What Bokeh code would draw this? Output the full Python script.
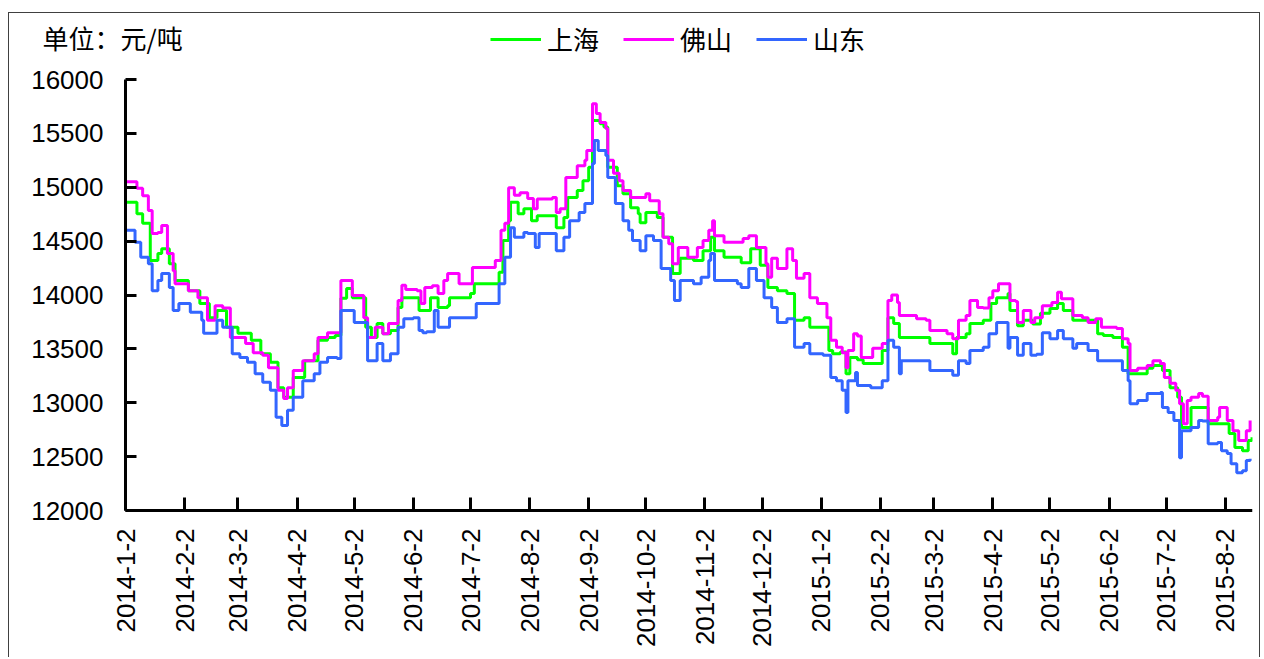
import math
import calendar
from datetime import datetime

from bokeh.plotting import figure
from bokeh.models import (FixedTicker, CustomJSTickFormatter, Legend, LegendItem,
                          Label, Range1d, NumeralTickFormatter)
from bokeh.embed import file_html
from bokeh.resources import INLINE

# ---------------- data ----------------
series_names = ["上海", "佛山", "山东"]
unit_text = "单位：元/吨"

sh_dates = ["2014-01-02", "2014-01-06", "2014-01-08", "2014-01-11", "2014-01-15", "2014-01-19", "2014-01-21",
            "2014-01-25", "2014-01-28", "2014-02-04", "2014-02-10", "2014-02-15", "2014-02-19", "2014-02-24",
            "2014-03-02", "2014-03-09", "2014-03-14", "2014-03-19", "2014-03-23", "2014-03-26", "2014-03-31",
            "2014-04-06", "2014-04-13", "2014-04-18", "2014-04-22", "2014-04-25", "2014-04-28", "2014-05-01",
            "2014-05-05", "2014-05-08", "2014-05-11", "2014-05-14", "2014-05-17", "2014-05-21", "2014-05-25",
            "2014-05-27", "2014-06-02", "2014-06-05", "2014-06-11", "2014-06-15", "2014-06-20", "2014-06-21",
            "2014-07-02", "2014-07-04", "2014-07-14", "2014-07-17", "2014-07-19", "2014-07-22", "2014-07-23",
            "2014-07-27", "2014-07-30", "2014-08-03", "2014-08-06", "2014-08-14", "2014-08-16", "2014-08-20",
            "2014-08-22", "2014-08-27", "2014-08-30", "2014-09-02", "2014-09-04", "2014-09-08", "2014-09-10",
            "2014-09-12", "2014-09-17", "2014-09-20", "2014-09-24", "2014-09-28", "2014-09-29", "2014-10-02",
            "2014-10-08", "2014-10-11", "2014-10-16", "2014-10-20", "2014-10-27", "2014-11-01", "2014-11-05",
            "2014-11-07", "2014-11-12", "2014-11-19", "2014-11-21", "2014-11-26", "2014-12-01", "2014-12-05",
            "2014-12-10", "2014-12-15", "2014-12-19", "2014-12-24", "2014-12-27", "2015-01-03", "2015-01-06",
            "2015-01-08", "2015-01-12", "2015-01-15", "2015-01-17", "2015-01-21", "2015-01-24", "2015-01-31",
            "2015-02-03", "2015-02-06", "2015-02-09", "2015-02-12", "2015-02-27", "2015-02-28", "2015-03-09",
            "2015-03-12", "2015-03-14", "2015-03-19", "2015-03-21", "2015-03-28", "2015-04-01", "2015-04-04",
            "2015-04-10", "2015-04-11", "2015-04-15", "2015-04-18", "2015-04-23", "2015-04-27", "2015-05-02",
            "2015-05-06", "2015-05-09", "2015-05-14", "2015-05-22", "2015-05-27", "2015-05-30", "2015-06-04",
            "2015-06-09", "2015-06-12", "2015-06-17", "2015-06-22", "2015-06-25", "2015-06-30", "2015-07-04",
            "2015-07-08", "2015-07-10", "2015-07-15", "2015-07-21", "2015-07-24", "2015-07-30", "2015-08-04",
            "2015-08-07", "2015-08-11", "2015-08-14", "2015-08-16"]
sh_vals = [14860, 14860, 14755, 14665, 14320, 14385, 14430,
           14290, 14135, 14040, 13920, 13790, 13855, 13700,
           13645, 13580, 13455, 13375, 13140, 13050, 13235,
           13390, 13580, 13605, 13625, 13970, 14060, 13975,
           13975, 13700, 13605, 13735, 13640, 13670, 13885,
           13975, 13975, 13855, 13975, 13885, 13900, 13975,
           14015, 14105, 14105, 14210, 14505, 14690, 14860,
           14755, 14800, 14690, 14735, 14735, 14625, 14720,
           14905, 14970, 15060, 15185, 15620, 15590, 15560,
           15185, 15015, 14940, 14810, 14755, 14670, 14765,
           14720, 14535, 14200, 14340, 14320, 14410, 14535,
           14410, 14350, 14350, 14300, 14430, 14275, 14070,
           14040, 14015, 13765, 13790, 13700, 13700, 13485,
           13455, 13470, 13270, 13420, 13400, 13365, 13365,
           13485, 13790, 13735, 13605, 13605, 13550, 13550,
           13455, 13605, 13640, 13735, 13765, 13920, 13975,
           14015, 13855, 13715, 13765, 13730, 13830, 13875,
           13920, 13855, 13765, 13765, 13640, 13625, 13605,
           13515, 13270, 13270, 13320, 13345, 13300, 13140,
           13050, 12770, 12955, 12955, 12805, 12805, 12715,
           12585, 12555, 12650, 12680]

fs_dates = ["2014-01-02", "2014-01-06", "2014-01-08", "2014-01-11", "2014-01-14", "2014-01-16", "2014-01-19",
            "2014-01-21", "2014-01-24", "2014-01-27", "2014-01-28", "2014-02-04", "2014-02-09", "2014-02-14",
            "2014-02-18", "2014-02-22", "2014-02-26", "2014-03-03", "2014-03-06", "2014-03-10", "2014-03-15",
            "2014-03-18", "2014-03-23", "2014-03-26", "2014-03-28", "2014-03-31", "2014-04-05", "2014-04-11",
            "2014-04-13", "2014-04-18", "2014-04-23", "2014-04-25", "2014-04-30", "2014-05-01", "2014-05-05",
            "2014-05-07", "2014-05-09", "2014-05-13", "2014-05-17", "2014-05-20", "2014-05-25", "2014-05-27",
            "2014-05-29", "2014-06-04", "2014-06-06", "2014-06-08", "2014-06-12", "2014-06-15", "2014-06-18",
            "2014-06-20", "2014-06-25", "2014-06-26", "2014-07-01", "2014-07-03", "2014-07-12", "2014-07-15",
            "2014-07-18", "2014-07-20", "2014-07-22", "2014-07-25", "2014-07-28", "2014-08-01", "2014-08-04",
            "2014-08-06", "2014-08-14", "2014-08-16", "2014-08-18", "2014-08-21", "2014-08-25", "2014-08-27",
            "2014-08-31", "2014-09-01", "2014-09-04", "2014-09-06", "2014-09-08", "2014-09-11", "2014-09-12",
            "2014-09-15", "2014-09-18", "2014-09-20", "2014-09-24", "2014-10-01", "2014-10-02", "2014-10-04",
            "2014-10-09", "2014-10-11", "2014-10-14", "2014-10-16", "2014-10-19", "2014-10-24", "2014-10-29",
            "2014-11-01", "2014-11-04", "2014-11-06", "2014-11-07", "2014-11-12", "2014-11-19", "2014-11-22",
            "2014-11-25", "2014-11-29", "2014-12-04", "2014-12-05", "2014-12-07", "2014-12-10", "2014-12-15",
            "2014-12-18", "2014-12-20", "2014-12-24", "2014-12-27", "2014-12-31", "2015-01-05", "2015-01-07",
            "2015-01-10", "2015-01-13", "2015-01-15", "2015-01-16", "2015-01-19", "2015-01-21", "2015-01-23",
            "2015-01-28", "2015-01-29", "2015-02-03", "2015-02-06", "2015-02-08", "2015-02-11", "2015-02-12",
            "2015-02-21", "2015-02-26", "2015-02-28", "2015-03-09", "2015-03-12", "2015-03-15", "2015-03-19",
            "2015-03-21", "2015-03-25", "2015-03-28", "2015-03-31", "2015-04-02", "2015-04-05", "2015-04-10",
            "2015-04-11", "2015-04-14", "2015-04-15", "2015-04-18", "2015-04-22", "2015-04-24", "2015-04-28",
            "2015-05-03", "2015-05-06", "2015-05-08", "2015-05-14", "2015-05-19", "2015-05-22", "2015-05-26",
            "2015-05-29", "2015-06-06", "2015-06-09", "2015-06-12", "2015-06-13", "2015-06-17", "2015-06-22",
            "2015-06-25", "2015-06-29", "2015-07-01", "2015-07-04", "2015-07-07", "2015-07-09", "2015-07-11",
            "2015-07-13", "2015-07-15", "2015-07-19", "2015-07-21", "2015-07-24", "2015-07-29", "2015-07-30",
            "2015-08-03", "2015-08-06", "2015-08-09", "2015-08-11", "2015-08-13", "2015-08-15"]
fs_vals = [15050, 15050, 14990, 14920, 14785, 14570, 14580,
           14645, 14385, 14225, 14105, 14040, 13975, 13765,
           13900, 13880, 13605, 13605, 13550, 13465, 13440,
           13325, 13115, 13040, 13140, 13300, 13390, 13455,
           13605, 13650, 13650, 14135, 14135, 13995, 13995,
           13790, 13605, 13700, 13640, 13735, 13950, 14090,
           14050, 14040, 13920, 14070, 14085, 14015, 14135,
           14200, 14200, 14105, 14105, 14255, 14255, 14320,
           14600, 14665, 14995, 14925, 14950, 14895, 14800,
           14890, 14905, 14765, 14800, 15090, 15090, 15200,
           15250, 15340, 15775, 15685, 15600, 15545, 15250,
           15130, 15060, 14970, 14905, 14905, 14940, 14875,
           14755, 14535, 14475, 14290, 14440, 14350, 14440,
           14505, 14600, 14690, 14550, 14490, 14490, 14525,
           14550, 14440, 14290, 14165, 14340, 14245, 14430,
           14320, 14155, 14200, 13975, 13920, 13790, 13580,
           13515, 13465, 13325, 13485, 13640, 13620, 13420,
           13420, 13505, 13550, 13950, 14000, 13930, 13810,
           13780, 13765, 13670, 13640, 13595, 13765, 13810,
           13950, 13885, 13880, 13975, 14040, 14105, 14105,
           13950, 13940, 13745, 13855, 13745, 13790, 13900,
           13930, 14025, 13965, 13810, 13790, 13745, 13780,
           13700, 13690, 13595, 13550, 13300, 13320, 13345,
           13390, 13365, 13235, 13180, 13115, 12990, 12805,
           13020, 13050, 13085, 13060, 12835, 12865, 12955,
           12835, 12740, 12650, 12650, 12740, 12835]

sd_dates = ["2014-01-02", "2014-01-06", "2014-01-07", "2014-01-10", "2014-01-14", "2014-01-16", "2014-01-19",
            "2014-01-21", "2014-01-25", "2014-01-27", "2014-01-30", "2014-02-05", "2014-02-11", "2014-02-12",
            "2014-02-16", "2014-02-19", "2014-02-22", "2014-02-27", "2014-03-03", "2014-03-07", "2014-03-11",
            "2014-03-15", "2014-03-19", "2014-03-22", "2014-03-25", "2014-03-28", "2014-03-31", "2014-04-05",
            "2014-04-11", "2014-04-14", "2014-04-18", "2014-04-23", "2014-04-25", "2014-04-30", "2014-05-02",
            "2014-05-05", "2014-05-09", "2014-05-14", "2014-05-17", "2014-05-21", "2014-05-25", "2014-05-28",
            "2014-06-02", "2014-06-05", "2014-06-07", "2014-06-09", "2014-06-13", "2014-06-15", "2014-06-20",
            "2014-06-21", "2014-07-03", "2014-07-05", "2014-07-15", "2014-07-17", "2014-07-20", "2014-07-23",
            "2014-07-25", "2014-07-30", "2014-08-01", "2014-08-05", "2014-08-07", "2014-08-14", "2014-08-16",
            "2014-08-20", "2014-08-23", "2014-08-28", "2014-08-31", "2014-09-04", "2014-09-05", "2014-09-07",
            "2014-09-11", "2014-09-12", "2014-09-16", "2014-09-20", "2014-09-23", "2014-09-25", "2014-09-29",
            "2014-10-02", "2014-10-06", "2014-10-10", "2014-10-15", "2014-10-17", "2014-10-20", "2014-10-27",
            "2014-10-31", "2014-11-04", "2014-11-05", "2014-11-07", "2014-11-19", "2014-11-21", "2014-11-25",
            "2014-11-29", "2014-12-03", "2014-12-07", "2014-12-10", "2014-12-15", "2014-12-19", "2014-12-24",
            "2014-12-27", "2015-01-03", "2015-01-07", "2015-01-10", "2015-01-13", "2015-01-15", "2015-01-16",
            "2015-01-20", "2015-01-21", "2015-01-28", "2015-01-31", "2015-02-03", "2015-02-06", "2015-02-09",
            "2015-02-12", "2015-02-13", "2015-02-27", "2015-02-28", "2015-03-09", "2015-03-12", "2015-03-15",
            "2015-03-19", "2015-03-21", "2015-03-28", "2015-03-31", "2015-04-04", "2015-04-09", "2015-04-10",
            "2015-04-11", "2015-04-15", "2015-04-18", "2015-04-22", "2015-04-25", "2015-04-28", "2015-05-02",
            "2015-05-06", "2015-05-09", "2015-05-14", "2015-05-16", "2015-05-22", "2015-05-27", "2015-06-04",
            "2015-06-09", "2015-06-12", "2015-06-13", "2015-06-17", "2015-06-22", "2015-06-29", "2015-06-30",
            "2015-07-03", "2015-07-06", "2015-07-09", "2015-07-10", "2015-07-15", "2015-07-19", "2015-07-21",
            "2015-07-24", "2015-07-29", "2015-07-31", "2015-08-03", "2015-08-05", "2015-08-08", "2015-08-11",
            "2015-08-13", "2015-08-15"]
sd_vals = [14600, 14600, 14490, 14350, 14290, 14040, 14135,
           14200, 14070, 13855, 13920, 13840, 13765, 13645,
           13645, 13765, 13700, 13455, 13420, 13375, 13270,
           13190, 13115, 12865, 12790, 12930, 13050, 13205,
           13270, 13375, 13420, 13410, 13855, 13855, 13745,
           13745, 13390, 13550, 13390, 13455, 13700, 13780,
           13790, 13670, 13650, 13660, 13855, 13700, 13700,
           13790, 13790, 13920, 13920, 14105, 14350, 14625,
           14535, 14580, 14570, 14440, 14570, 14570, 14410,
           14535, 14690, 14765, 14850, 15220, 15435, 15340,
           15295, 15090, 14850, 14690, 14600, 14505, 14410,
           14550, 14505, 14245, 14135, 13950, 14135, 14105,
           14165, 14320, 14385, 14135, 14105, 14070, 14245,
           14135, 13975, 13885, 13745, 13780, 13515, 13550,
           13455, 13440, 13235, 13205, 13115, 12910, 13205,
           13280, 13160, 13140, 13140, 13205, 13580, 13515,
           13270, 13390, 13390, 13300, 13300, 13255, 13390,
           13365, 13485, 13515, 13640, 13745, 13745, 13505,
           13605, 13440, 13550, 13440, 13450, 13650, 13595,
           13670, 13595, 13505, 13550, 13485, 13390, 13390,
           13300, 13205, 12990, 13020, 13085, 13095, 12955,
           12910, 12835, 12490, 12740, 12770, 12835, 12830,
           12620, 12630, 12555, 12530, 12435, 12350, 12370,
           12465, 12480]

y_ticks = [12000, 12500, 13000, 13500, 14000, 14500, 15000, 15500, 16000]
x_tick_labels = ["2014-1-2", "2014-2-2", "2014-3-2", "2014-4-2", "2014-5-2", "2014-6-2", "2014-7-2",
                 "2014-8-2", "2014-9-2", "2014-10-2", "2014-11-2", "2014-12-2", "2015-1-2", "2015-2-2",
                 "2015-3-2", "2015-4-2", "2015-5-2", "2015-6-2", "2015-7-2", "2015-8-2"]
x_start = "2014-01-02"
x_end = "2015-08-16 06:00"
y_min, y_max = 12000, 16000

colors = ["#00FF00", "#FF00FF", "#3366FF"]

# ---------------- helpers ----------------
def to_dt(s):
    fmt = "%Y-%m-%d %H:%M" if " " in s else "%Y-%m-%d"
    return datetime.strptime(s, fmt)


def to_ms(s):
    return calendar.timegm(to_dt(s).timetuple()) * 1000.0


FONT_NUM = "Liberation Sans"
FONT_CJK = "Noto Sans CJK SC"

# layout (pixels, canvas coordinates)
W, H = 1252, 645
AXIS_LEFT_PX = 116        # canvas x of the y axis line
AXIS_TOP_PX = 66          # canvas y of the 16000 tick
AXIS_BOTTOM_PX = 497      # canvas y of the x axis line
FRAME_RIGHT_PAD = 9
frame_w = W - FRAME_RIGHT_PAD

# The frame fills the whole canvas; the axes are pinned at the data limits
# (fixed_location + bounds) so header texts and tick labels sit inside the frame.
upp = (y_max - y_min) / (AXIS_BOTTOM_PX - AXIS_TOP_PX)
y_top = y_max + upp * AXIS_TOP_PX
y_bottom = y_min - upp * (H - AXIS_BOTTOM_PX)
ms0, ms1 = to_ms(x_start), to_ms(x_end)
x_left = ms0 - (ms1 - ms0) * AXIS_LEFT_PX / (frame_w - AXIS_LEFT_PX)

p = figure(width=W, height=H, title=None,
           x_axis_type="datetime",
           x_range=Range1d(x_left, ms1),
           y_range=Range1d(y_bottom, y_top),
           output_backend="svg", toolbar_location=None,
           min_border_left=0, min_border_right=FRAME_RIGHT_PAD,
           min_border_top=0, min_border_bottom=0)
p.margin = (12, 0, 0, 8)
p.styles = {"border-top": "1px solid #404040", "border-left": "1px solid #404040",
            "border-right": "1px solid #404040"}
p.background_fill_color = "white"
p.border_fill_color = "white"
p.outline_line_color = None
p.xgrid.visible = False
p.ygrid.visible = False

renderers = []
for dates, vals, col in [(sh_dates, sh_vals, colors[0]),
                         (fs_dates, fs_vals, colors[1]),
                         (sd_dates, sd_vals, colors[2])]:
    r = p.step([to_dt(d) for d in dates], vals, mode="after", line_color=col, line_width=3)
    renderers.append(r)

# axes
for ax in (p.xaxis[0], p.yaxis[0]):
    ax.axis_line_color = "black"
    ax.axis_line_width = 3
    ax.major_tick_line_color = "black"
    ax.major_tick_line_width = 3
    ax.major_tick_out = 0
    ax.minor_tick_line_color = None
    ax.major_label_text_font = FONT_NUM
    ax.major_label_text_font_size = "26px"
    ax.major_label_text_color = "black"

p.yaxis.fixed_location = ms0
p.yaxis.bounds = (y_min, y_max)
p.yaxis.ticker = FixedTicker(ticks=y_ticks)
p.yaxis.formatter = NumeralTickFormatter(format="0")
p.yaxis.major_tick_in = 11
p.yaxis.major_label_standoff = 22

p.xaxis.fixed_location = y_min
p.xaxis.bounds = (ms0, ms1)
p.xaxis.ticker = FixedTicker(ticks=[to_ms(s) for s in x_tick_labels])
p.xaxis.formatter = CustomJSTickFormatter(code="""
    const d = new Date(tick);
    return d.getUTCFullYear() + "-" + (d.getUTCMonth() + 1) + "-" + d.getUTCDate();
""")
p.xaxis.major_tick_in = 13
p.xaxis.major_label_orientation = math.pi / 2
p.xaxis.major_label_standoff = 18

# header: legend and unit text (inside the frame, above the axes)
bottom_to_axis = H - AXIS_BOTTOM_PX
legend = Legend(items=[LegendItem(label=n, renderers=[r]) for n, r in zip(series_names, renderers)],
                location=(AXIS_LEFT_PX + 365, bottom_to_axis + 453), orientation="horizontal",
                glyph_width=51, glyph_height=20, label_standoff=6, spacing=24,
                padding=0, margin=0, border_line_color=None, background_fill_alpha=0,
                label_text_font=FONT_CJK, label_text_font_size="26px", label_text_color="black")
p.add_layout(legend, "center")

unit = Label(x=AXIS_LEFT_PX - 83, y=bottom_to_axis + 473, x_units="screen", y_units="screen",
             text=unit_text, text_font=FONT_CJK, text_font_size="26px", text_color="black",
             text_baseline="middle", text_align="left")
p.add_layout(unit)

open("out.html", "w").write(file_html(p, INLINE))
